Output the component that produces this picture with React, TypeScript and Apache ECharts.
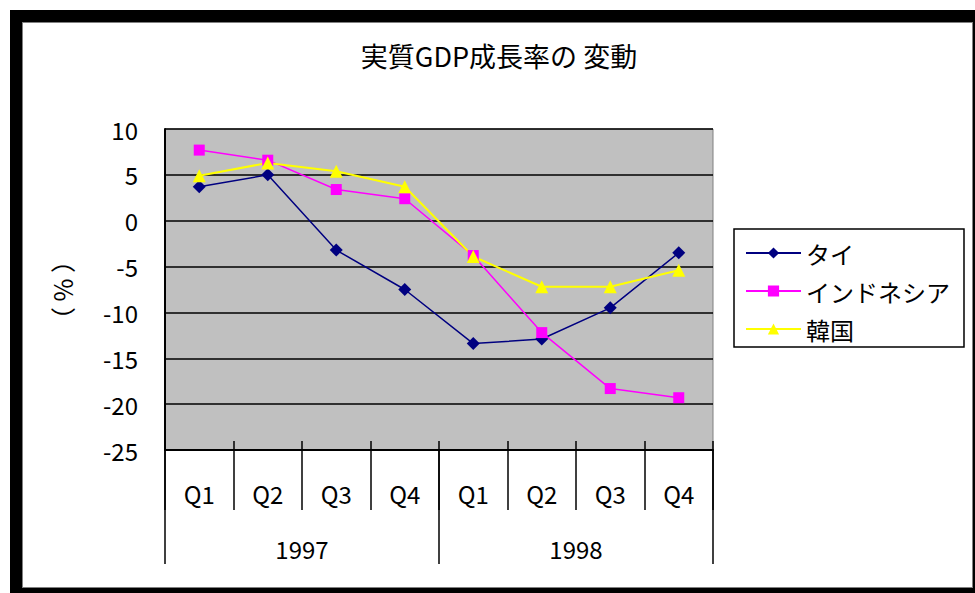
import React, { useEffect, useRef } from "react";
import * as echarts from "echarts";

// Quarterly real GDP growth (%), 1997–1998
const quarters = ["Q1", "Q2", "Q3", "Q4", "Q1", "Q2", "Q3", "Q4"];
const years = ["1997", "1998"];
const seriesNames = ["タイ", "インドネシア", "韓国"];
const thailand = [3.7, 5.0, -3.2, -7.5, -13.4, -12.9, -9.5, -3.5];
const indonesia = [7.7, 6.6, 3.4, 2.4, -3.8, -12.2, -18.3, -19.3];
const korea = [4.9, 6.3, 5.4, 3.7, -3.9, -7.2, -7.2, -5.4];
const yTicks = { min: -25, max: 10, step: 5 };

const FONT = "'Noto Sans CJK JP', 'Noto Sans', sans-serif";

export default function App() {
  const ref = useRef<HTMLDivElement>(null);

  useEffect(() => {
    if (!ref.current) return;
    const chart = echarts.init(ref.current, undefined, { renderer: "svg" });

    const lineSeries = (
      name: string,
      data: number[],
      color: string,
      symbol: string,
      symbolSize: number,
      width: number
    ) => ({
      name,
      type: "line",
      data,
      xAxisIndex: 0,
      symbol,
      symbolSize,
      itemStyle: { color, borderWidth: 0 },
      lineStyle: { color, width },
    });

    chart.setOption({
      animation: false,
      backgroundColor: "transparent",
      textStyle: { fontFamily: FONT },
      title: {
        text: "実質GDP成長率の 変動",
        left: 494,
        top: 37,
        textAlign: "center",
        textStyle: { fontFamily: FONT, fontSize: 27, fontWeight: "normal", color: "#000" },
      },
      grid: {
        left: 165,
        top: 129,
        right: 262,
        bottom: 143,
        show: true,
        backgroundColor: "#c0c0c0",
        borderColor: "#808080",
        borderWidth: 1,
      },
      legend: {
        orient: "vertical",
        left: 734,
        top: 229,
        data: seriesNames,
        itemWidth: 55,
        itemHeight: 14,
        itemGap: 14,
        padding: [12, 14, 6, 11],
        borderColor: "#000",
        borderWidth: 1.5,
        backgroundColor: "#fff",
        textStyle: { fontFamily: FONT, fontSize: 24, color: "#000", lineHeight: 24 },
      },
      xAxis: [
        {
          type: "category",
          data: quarters,
          position: "bottom",
          boundaryGap: true,
          axisLine: { show: true, onZero: false, lineStyle: { color: "#000", width: 2 } },
          axisTick: { show: true, inside: false, length: 60, interval: 0, lineStyle: { color: "#000", width: 1.5 } },
          axisLabel: { interval: 0, margin: 31, fontFamily: FONT, fontSize: 24, color: "#000" },
          splitLine: { show: false },
        },
        {
          type: "category",
          data: years,
          position: "bottom",
          boundaryGap: true,
          axisLine: { show: false, onZero: false },
          axisTick: { show: true, inside: false, length: 114, interval: 0, lineStyle: { color: "#000", width: 1.5 } },
          axisLabel: { interval: 0, margin: 86, fontFamily: FONT, fontSize: 24, color: "#000" },
          splitLine: { show: false },
        },
        {
          type: "category",
          data: quarters,
          position: "bottom",
          boundaryGap: true,
          axisLine: { show: false, onZero: false },
          axisTick: { show: true, inside: true, length: 9, interval: 0, lineStyle: { color: "#000", width: 1.5 } },
          axisLabel: { show: false },
          splitLine: { show: false },
        },
      ],
      yAxis: {
        type: "value",
        min: yTicks.min,
        max: yTicks.max,
        interval: yTicks.step,
        axisLine: { show: true, lineStyle: { color: "#000", width: 2 } },
        axisTick: { show: false },
        axisLabel: { margin: 27, fontFamily: FONT, fontSize: 24, color: "#000" },
        splitLine: { show: true, lineStyle: { color: "#000", width: 1.6 } },
      },
      graphic: [
        {
          type: "text",
          x: 62,
          y: 290,
          rotation: Math.PI / 2,
          style: {
            text: "（ % ）",
            fontFamily: FONT,
            fontSize: 25,
            fill: "#000",
            textAlign: "center",
            textVerticalAlign: "middle",
          },
        },
      ],
      series: [
        lineSeries(seriesNames[0], thailand, "#000080", "diamond", 13, 1.5),
        lineSeries(seriesNames[1], indonesia, "#ff00ff", "rect", 11, 1.5),
        lineSeries(seriesNames[2], korea, "#ffff00", "triangle", 13, 2),
      ],
    });

    return () => chart.dispose();
  }, []);

  return (
    <div style={{ position: "absolute", left: 0, top: 0, width: 975, height: 593, background: "#fff", overflow: "hidden" }}>
      <div style={{ position: "absolute", left: 10, top: 10, width: 980, height: 600, background: "#000" }} />
      <div
        style={{
          position: "absolute",
          left: 22,
          top: 22,
          width: 949,
          height: 564,
          background: "#fff",
          border: "1px solid #808080",
        }}
      />
      <div ref={ref} style={{ position: "absolute", left: 0, top: 0, width: 975, height: 593 }} />
    </div>
  );
}
